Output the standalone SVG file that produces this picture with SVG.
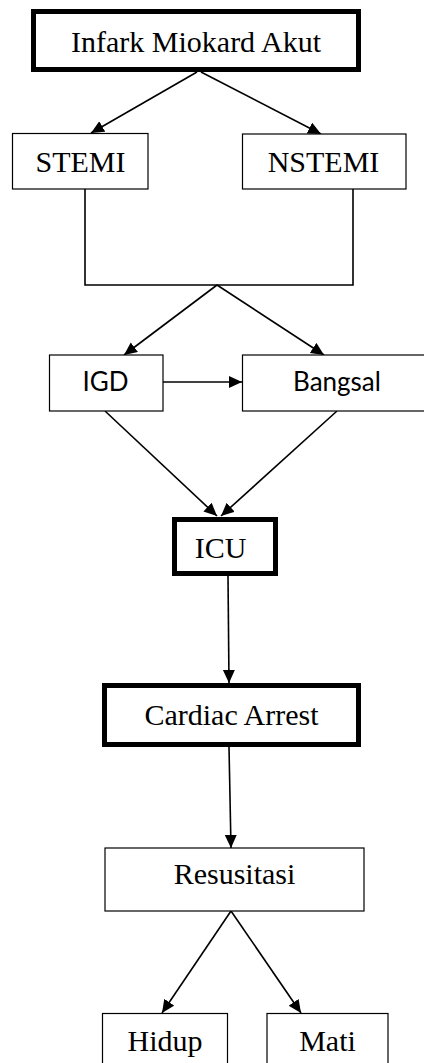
<svg xmlns="http://www.w3.org/2000/svg" width="424" height="1063" viewBox="0 0 424 1063">
<style>
.box{fill:#fff;stroke:#000;stroke-width:1.2}
.thick{fill:#fff;stroke:#000;stroke-width:5}
.t{font-family:"Liberation Serif","Times New Roman",serif;font-size:30px;fill:#000;text-anchor:middle}
.s{font-family:Lato,"Open Sans",sans-serif;font-size:26px;fill:#000;text-anchor:middle}
.c{fill:none;stroke:#000;stroke-width:1.6}
</style>
<defs>
<marker id="ah" markerUnits="userSpaceOnUse" markerWidth="14" markerHeight="13" refX="13" refY="6" orient="auto">
<path d="M0,0 L13,6 L0,12 z" fill="#000"/>
</marker>
</defs>
<rect width="424" height="1063" fill="#fff"/>
<g id="connectors">
<line class="c" x1="197" y1="72" x2="91" y2="133" marker-end="url(#ah)"/>
<line class="c" x1="201" y1="72" x2="321" y2="134" marker-end="url(#ah)"/>
<polyline class="c" points="85,189 85,285 353,285 353,189"/>
<line class="c" x1="217" y1="285" x2="124" y2="355" marker-end="url(#ah)"/>
<line class="c" x1="217" y1="285" x2="324" y2="355" marker-end="url(#ah)"/>
<line class="c" x1="163" y1="382" x2="242" y2="382" marker-end="url(#ah)"/>
<line class="c" x1="105" y1="411" x2="217" y2="516" marker-end="url(#ah)"/>
<line class="c" x1="337" y1="411" x2="221" y2="516" marker-end="url(#ah)"/>
<line class="c" x1="228" y1="576" x2="229" y2="683" marker-end="url(#ah)"/>
<line class="c" x1="229" y1="747" x2="231" y2="848" marker-end="url(#ah)"/>
<line class="c" x1="231" y1="911" x2="162" y2="1013" marker-end="url(#ah)"/>
<line class="c" x1="231" y1="911" x2="301" y2="1013" marker-end="url(#ah)"/>
</g>
<g id="node-ima"><rect class="thick" x="33.5" y="11.5" width="325" height="58"/><text class="t" x="196" y="52">Infark Miokard Akut</text></g>
<g id="node-stemi"><rect class="box" x="12.5" y="133.5" width="135.5" height="55.5"/><text class="t" x="80.5" y="172">STEMI</text></g>
<g id="node-nstemi"><rect class="box" x="242.5" y="134" width="163.5" height="55"/><text class="t" x="323.5" y="172">NSTEMI</text></g>
<g id="node-igd"><rect class="box" x="49.5" y="355" width="113.5" height="56"/><text class="s" x="105.5" y="391">IGD</text></g>
<g id="node-bangsal"><rect class="box" x="242.5" y="355" width="200" height="56"/><text class="s" x="337" y="391">Bangsal</text></g>
<g id="node-icu"><rect class="thick" x="174.5" y="519.5" width="101" height="54"/><text class="t" x="220.5" y="558">ICU</text></g>
<g id="node-ca"><rect class="thick" x="104.5" y="685.5" width="254" height="59"/><text class="t" x="231.5" y="725">Cardiac Arrest</text></g>
<g id="node-res"><rect class="box" x="105" y="848" width="259" height="63"/><text class="t" x="234.5" y="884">Resusitasi</text></g>
<g id="node-hidup"><rect class="box" x="102.5" y="1013.5" width="125" height="60"/><text class="t" x="165" y="1051">Hidup</text></g>
<g id="node-mati"><rect class="box" x="267" y="1013.5" width="121" height="60"/><text class="t" x="327.5" y="1051">Mati</text></g>
</svg>
